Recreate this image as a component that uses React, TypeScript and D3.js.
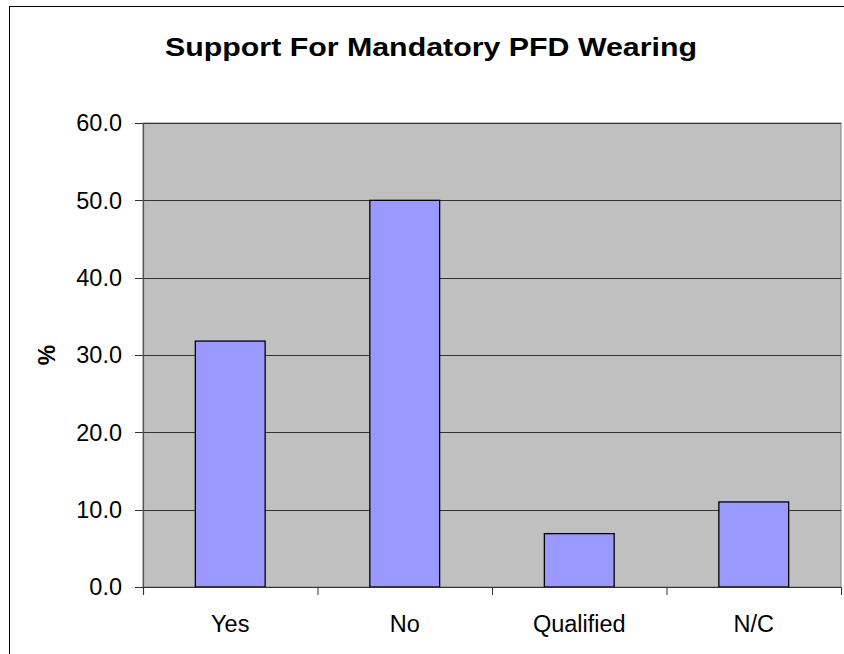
import React from 'react';
import * as d3 from 'd3';

const categories = ['Yes', 'No', 'Qualified', 'N/C'];
const values = [31.8, 50.0, 6.9, 11.0];
const yTicks = [0, 10, 20, 30, 40, 50, 60];

const W = 844;
const H = 654;
const plot = { left: 143, top: 123, right: 841, bottom: 587 };

export default function App() {
  const x = d3.scaleBand<string>()
    .domain(categories)
    .range([plot.left, plot.right])
    .paddingInner(0)
    .paddingOuter(0);

  const y = d3.scaleLinear()
    .domain([0, 60])
    .range([plot.bottom, plot.top]);

  const bw = x.bandwidth() / 2.5; // excel gap width 150%
  const font = 'Arial, "Liberation Sans", sans-serif';

  const bounds = [...categories.map(c => x(c) as number), plot.right];

  return (
    <svg width={W} height={H} style={{ position: 'absolute', left: 0, top: 0, background: '#fff' }}>
      {/* outer chart border */}
      <rect x={9.5} y={6.5} width={W + 20} height={H + 20} fill="#fff" stroke="#000" strokeWidth={1} />

      <text x={165} y={56} textLength={532} lengthAdjust="spacingAndGlyphs" fontFamily={font}
        fontWeight="bold" fontSize={26} fill="#000">
        Support For Mandatory PFD Wearing
      </text>

      {/* plot area */}
      <rect x={plot.left} y={plot.top} width={plot.right - plot.left} height={plot.bottom - plot.top}
        fill="#c0c0c0" stroke="#808080" strokeWidth={1} />

      {/* gridlines */}
      {yTicks.filter(t => t > 0).map(t => (
        <line key={'g' + t} x1={plot.left} x2={plot.right} y1={Math.round(y(t)) + 0.5} y2={Math.round(y(t)) + 0.5}
          stroke="#333" strokeWidth={1} />
      ))}

      {/* bars */}
      {categories.map((c, i) => {
        const cx = (x(c) as number) + x.bandwidth() / 2;
        return (
          <rect key={c} x={cx - bw / 2} y={y(values[i])} width={bw} height={y(0) - y(values[i])}
            fill="#9999ff" stroke="#000" strokeWidth={1.3} />
        );
      })}

      {/* y axis */}
      <line x1={plot.left + 0.5} x2={plot.left + 0.5} y1={plot.top} y2={plot.bottom + 7} stroke="#555" strokeWidth={1.2} />
      {yTicks.map(t => (
        <g key={'t' + t}>
          <line x1={plot.left - 8} x2={plot.left} y1={Math.round(y(t)) + 0.5} y2={Math.round(y(t)) + 0.5} stroke="#333" />
          <text x={122} y={y(t) + 8.3} textAnchor="end" fontFamily={font} fontSize={23.5} fill="#000">
            {d3.format('.1f')(t)}
          </text>
        </g>
      ))}

      {/* x axis */}
      <line x1={plot.left} x2={plot.right} y1={plot.bottom + 0.5} y2={plot.bottom + 0.5} stroke="#333" strokeWidth={1.2} />
      {bounds.map((b, i) => (
        <line key={'xt' + i} x1={b + 0.5} x2={b + 0.5} y1={plot.bottom} y2={plot.bottom + 8} stroke="#333" />
      ))}
      {categories.map(c => (
        <text key={'l' + c} x={(x(c) as number) + x.bandwidth() / 2} y={631.5} textAnchor="middle"
          fontFamily={font} fontSize={23.5} fill="#000">
          {c}
        </text>
      ))}

      <text transform={`translate(55, 355) rotate(-90)`} textAnchor="middle" fontFamily={font}
        fontWeight="bold" fontSize={23} fill="#000">%</text>
    </svg>
  );
}
